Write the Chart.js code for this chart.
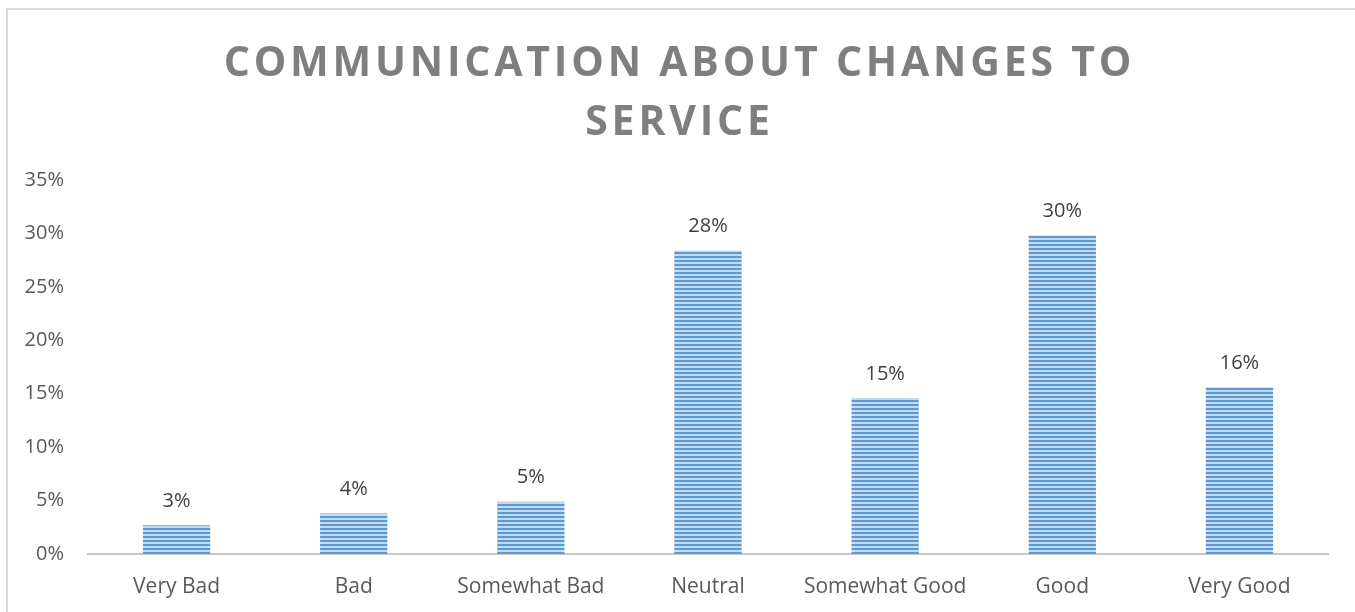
<!DOCTYPE html>
<html>
<head>
<meta charset="utf-8">
<script src="https://cdn.jsdelivr.net/npm/chart.js@4"></script>
<style>
  html, body { margin: 0; padding: 0; background: #fff; }
  #wrap { position: relative; width: 1355px; height: 612px; }
</style>
</head>
<body>
<div id="wrap"><canvas id="ratingChart"></canvas></div>
<script>
// survey answers
const categories = ['Very Bad', 'Bad', 'Somewhat Bad', 'Neutral', 'Somewhat Good', 'Good', 'Very Good'];
const shares = [0.027, 0.038, 0.049, 0.284, 0.146, 0.298, 0.156];
const titleLines = ['COMMUNICATION ABOUT CHANGES TO', 'SERVICE'];
const yTicks = [0, 0.05, 0.10, 0.15, 0.20, 0.25, 0.30, 0.35];

const FONT = "'Open Sans', 'Noto Sans', sans-serif";

// horizontal stripes for the bar fill
function stripePattern() {
    const c = document.createElement('canvas');
    c.width = 4;
    c.height = 4;
    const g = c.getContext('2d');
    g.fillStyle = '#c3daf0';
    g.fillRect(0, 0, 4, 4);
    g.fillStyle = '#5b9bd5';
    g.fillRect(0, 0, 4, 2);
    return g.createPattern(c, 'repeat');
}

const pct = v => Math.round(v * 100) + '%';

// outer frame + spaced-out title
const framePlugin = {
    id: 'frame',
    beforeDraw(chart) {
        const ctx = chart.ctx;
        ctx.save();
        ctx.strokeStyle = '#d9d9d9';
        ctx.lineWidth = 2;
        ctx.strokeRect(7, 9, chart.width + 20, chart.height + 20);
        ctx.restore();
    },
    afterDraw(chart) {
        const ctx = chart.ctx;
        ctx.save();
        ctx.font = 'bold 41px ' + FONT;
        ctx.fillStyle = '#7f7f7f';
        ctx.textAlign = 'center';
        ctx.textBaseline = 'alphabetic';
        ctx.letterSpacing = '3.8px';
        ctx.fillText(titleLines[0], chart.width / 2 + 2, 76);
        ctx.fillText(titleLines[1], chart.width / 2 + 2, 135);
        ctx.restore();
    }
};

// value labels above each bar
const barLabels = {
    id: 'barLabels',
    afterDatasetsDraw(chart) {
        const ctx = chart.ctx;
        const meta = chart.getDatasetMeta(0);
        ctx.save();
        ctx.font = '20px ' + FONT;
        ctx.fillStyle = '#404040';
        ctx.textAlign = 'center';
        ctx.textBaseline = 'middle';
        meta.data.forEach((bar, i) => {
            ctx.fillText(pct(shares[i]), bar.x, bar.y - 24);
        });
        ctx.restore();
    }
};

const ctx = document.getElementById('ratingChart').getContext('2d');
const chart = new Chart(ctx, {
    type: 'bar',
    data: {
        labels: categories,
        datasets: [{
            data: shares,
            backgroundColor: stripePattern(),
            borderWidth: 0,
            barPercentage: 0.38,
            categoryPercentage: 1
        }]
    },
    options: {
        responsive: true,
        maintainAspectRatio: false,
        animation: false,
        layout: { padding: { top: 180, right: 27, bottom: 0, left: 0 } },
        plugins: {
            legend: { display: false },
            title: { display: false },
            tooltip: { enabled: false }
        },
        scales: {
            x: {
                grid: { display: false, drawTicks: false },
                border: { display: true, color: '#c8c8c8', width: 2 },
                ticks: { color: '#595959', font: { family: FONT, size: 21 }, padding: 20, maxRotation: 0 },
                afterFit(scale) { scale.height = 58; }
            },
            y: {
                min: 0,
                max: 0.35,
                grid: { display: false, drawTicks: false },
                border: { display: false },
                afterBuildTicks(scale) { scale.ticks = yTicks.map(v => ({ value: v })); },
                ticks: {
                    color: '#595959',
                    font: { family: FONT, size: 20 },
                    padding: 24,
                    callback: v => pct(v)
                },
                afterFit(scale) { scale.width = 88; }
            }
        }
    },
    plugins: [framePlugin, barLabels]
});
</script>
</body>
</html>
